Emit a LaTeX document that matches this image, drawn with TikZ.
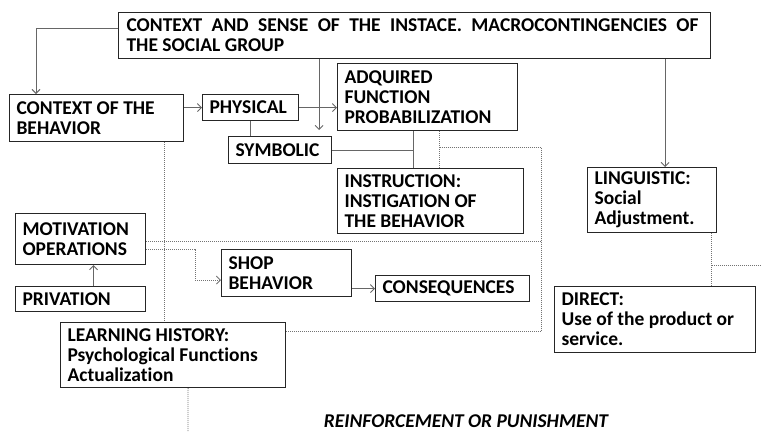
\documentclass[tikz,border=0pt]{standalone}
\usepackage{fontspec}
\setmainfont{Carlito}[Ligatures=NoCommon]
\usetikzlibrary{arrows.meta,calc}
\begin{document}
\begin{tikzpicture}[x=1pt,y=-1pt,
  box/.style={draw=black!85, line width=1.1pt, fill=white, anchor=north west,
    inner xsep=7pt, inner ysep=2pt, align=flush left,
    font=\fontsize{19.5}{20}\selectfont\bfseries},
  conn/.style={draw=black!60, line width=0.9pt},
  arr/.style={conn, -{Straight Barb[length=4pt,width=8pt]}},
  dot/.style={draw=black!55, line width=0.9pt, dash pattern=on 1pt off 1pt},
  dotarr/.style={dot, -{Straight Barb[length=4pt,width=8pt]}}]
\useasboundingbox (0,0) rectangle (761,432);

\node[box, minimum width=592pt, minimum height=46pt, text width=576pt] (top) at (118,12)
  {\hbox to 572pt{CONTEXT\hfill AND\hfill SENSE\hfill OF\hfill THE\hfill INSTACE.\hfill MACROCONTINGENCIES\hfill OF}\\THE SOCIAL GROUP};
\node[box, minimum width=174pt, minimum height=47pt, text width=160pt] (ctx) at (9,94) {CONTEXT OF THE\\BEHAVIOR};
\node[box, minimum width=96pt, minimum height=26pt, text width=82pt] (phys) at (202,94) {PHYSICAL};
\node[box, minimum width=103pt, minimum height=27pt, text width=89pt] (symb) at (228,136) {SYMBOLIC};
\node[box, minimum width=180pt, minimum height=67pt, text width=166pt] (adq) at (337,63) {ADQUIRED\\FUNCTION\\PROBABILIZATION};
\node[box, minimum width=186pt, minimum height=65pt, text width=172pt] (instr) at (337,168) {INSTRUCTION:\\INSTIGATION OF\\THE BEHAVIOR};
\node[box, minimum width=129pt, minimum height=65pt, text width=115pt] (ling) at (587,167) {LINGUISTIC:\\Social\\Adjustment.};
\node[box, minimum width=130pt, minimum height=51pt, text width=116pt] (mot) at (15,213) {MOTIVATION\\OPERATIONS};
\node[box, minimum width=130pt, minimum height=25pt, text width=116pt] (priv) at (15,286) {PRIVATION};
\node[box, minimum width=130pt, minimum height=47pt, text width=116pt] (shop) at (221,249) {SHOP\\BEHAVIOR};
\node[box, minimum width=154pt, minimum height=26pt, text width=140pt] (cons) at (375,275) {CONSEQUENCES};
\node[box, minimum width=225pt, minimum height=65pt, text width=211pt] (learn) at (60,322) {LEARNING HISTORY:\\Psychological Functions\\Actualization};
\node[box, minimum width=201pt, minimum height=66pt, text width=187pt] (direct) at (554,286) {DIRECT:\\Use of the product or\\service.};

\node[font=\fontsize{19.5}{20}\selectfont\bfseries\itshape, inner sep=0pt] (reinf) at (466,421) {REINFORCEMENT OR PUNISHMENT};

% solid connectors
\draw[arr] ([yshift=7pt]top.west) -| ([xshift=27pt]ctx.north west);
\draw[arr] (phys.west -| ctx.east) -- (phys.west);
\draw[arr] (phys.east) -- (phys.east -| adq.west);
\draw[conn] (phys.south) -- (phys.south |- symb.north);
\coordinate (s1) at ([xshift=-13pt,yshift=6pt]symb.north east);
\draw[arr] (top.south -| s1) -- (s1);
\coordinate (v1) at ([xshift=-14pt]adq.south);
\draw[conn] (v1) -- (v1 |- instr.north);
\draw[conn] (symb.east) -- (symb.east -| v1);
\draw[arr] ([xshift=13pt]priv.north) -- ([xshift=13pt]mot.south);
\draw[arr] (cons.west -| shop.east) -- (cons.west);
\coordinate (l1) at ([xshift=13pt]ling.north);
\draw[arr] (top.south -| l1) -- (l1);

% dotted connectors
\coordinate (v2) at ([xshift=12pt]adq.south);
\draw[dot] (v2) -- (v2 |- instr.north);
\coordinate (d1) at ([yshift=-16pt]v2);
\coordinate (dc) at ([xshift=17pt]instr.south east);
\coordinate (d2) at ([yshift=-9pt]learn.north east);
\draw[dot] (d1) -| (dc) |- (d2);
\coordinate (m1) at ([yshift=-2pt]mot.east);
\draw[dot] (m1) -- (m1 -| dc);
\coordinate (m2) at ([yshift=-10pt]mot.east);
\coordinate (k) at ([xshift=-26pt,yshift=-7pt]shop.west);
\draw[dotarr] (m2) -| (k) -- ([yshift=-7pt]shop.west);
\coordinate (c1) at ([xshift=-20pt]ctx.south east);
\draw[dot] (c1) -- (c1 |- learn.north);
\coordinate (lb) at ([xshift=15pt]learn.south);
\coordinate (bot) at (188,432);
\draw[dot] (lb) -- (bot);
\coordinate (g1) at ([xshift=-6pt]ling.south east);
\draw[dot] (g1) -- (g1 |- direct.north);
\coordinate (re) at (761,265);
\draw[dot] (re) -- (re -| g1);
\end{tikzpicture}
\end{document}
